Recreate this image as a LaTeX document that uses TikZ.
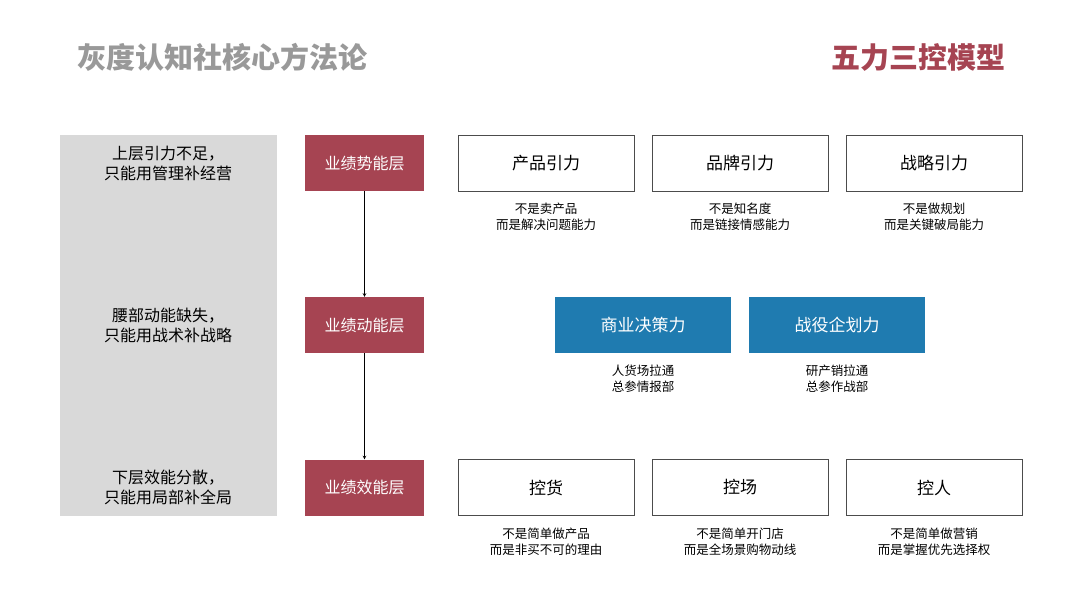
\documentclass[tikz,border=0pt]{standalone}
\usepackage{fontspec}
\setmainfont{Noto Sans CJK SC}
\usetikzlibrary{positioning}
\definecolor{layerred}{HTML}{A64452}
\definecolor{forceblue}{HTML}{1F7BB0}
\definecolor{panelgray}{HTML}{D9D9D9}
\begin{document}
\begin{tikzpicture}[x=1pt,y=-1pt,
  every node/.style={align=center,inner sep=0pt},
  layer/.style={fill=layerred,text=white,minimum width=119pt,minimum height=56pt,font=\fontsize{16}{18}\selectfont},
  force/.style={draw=black!70,fill=white,minimum width=176pt,minimum height=56pt,font=\fontsize{17}{19}\selectfont},
  blueforce/.style={fill=forceblue,text=white,minimum width=176pt,minimum height=56pt,font=\fontsize{17}{19}\selectfont},
  note/.style={font=\fontsize{12.5}{16}\selectfont},
  reason/.style={font=\fontsize{16}{20}\selectfont},
  to/.style={->,>=stealth,semithick}]
  \useasboundingbox (0,0) rectangle (1080,599);
  \fill[white] (0,0) rectangle (1080,599);

  % titles
  \node[anchor=west,text=black!40,font=\fontsize{29}{32}\selectfont\bfseries] (title) at (77,57) {灰度认知社核心方法论};
  \node[anchor=east,text=layerred,font=\fontsize{29}{32}\selectfont\bfseries] (model) at (1006,57) {五力三控模型};

  % left panel
  \fill[panelgray] (60,135) rectangle (277,516);
  \node[reason] (r1) at (168,163) {上层引力不足，\\只能用管理补经营};
  \node[reason] (r2) at (168,325) {腰部动能缺失，\\只能用战术补战略};
  \node[reason] (r3) at (168,487) {下层效能分散，\\只能用局部补全局};

  % layers
  \node[layer] (top) at (364.5,163) {业绩势能层};
  \node[layer] (mid) at (364.5,325) {业绩动能层};
  \node[layer] (bot) at (364.5,487.5) {业绩效能层};
  \draw[to] (top) -- (mid);
  \draw[to] (mid) -- (bot);

  % upper forces
  \node[force] (product) at (546,163) {产品引力};
  \node[force] (brand) at (740,163) {品牌引力};
  \node[force] (strategy) at (934,163) {战略引力};
  \node[note,below=12pt of product] {不是卖产品\\而是解决问题能力};
  \node[note,below=12pt of brand] {不是知名度\\而是链接情感能力};
  \node[note,below=12pt of strategy] {不是做规划\\而是关键破局能力};

  % middle forces
  \node[blueforce] (decision) at (643,325) {商业决策力};
  \node[blueforce] (campaign) at (837,325) {战役企划力};
  \node[note,below=12pt of decision] {人货场拉通\\总参情报部};
  \node[note,below=12pt of campaign] {研产销拉通\\总参作战部};

  % lower controls
  \node[force] (goods) at (546,487.5) {控货};
  \node[force] (scene) at (740,487.5) {控场};
  \node[force] (people) at (934,487.5) {控人};
  \node[note,below=12pt of goods] {不是简单做产品\\而是非买不可的理由};
  \node[note,below=12pt of scene] {不是简单开门店\\而是全场景购物动线};
  \node[note,below=12pt of people] {不是简单做营销\\而是掌握优先选择权};
\end{tikzpicture}
\end{document}
